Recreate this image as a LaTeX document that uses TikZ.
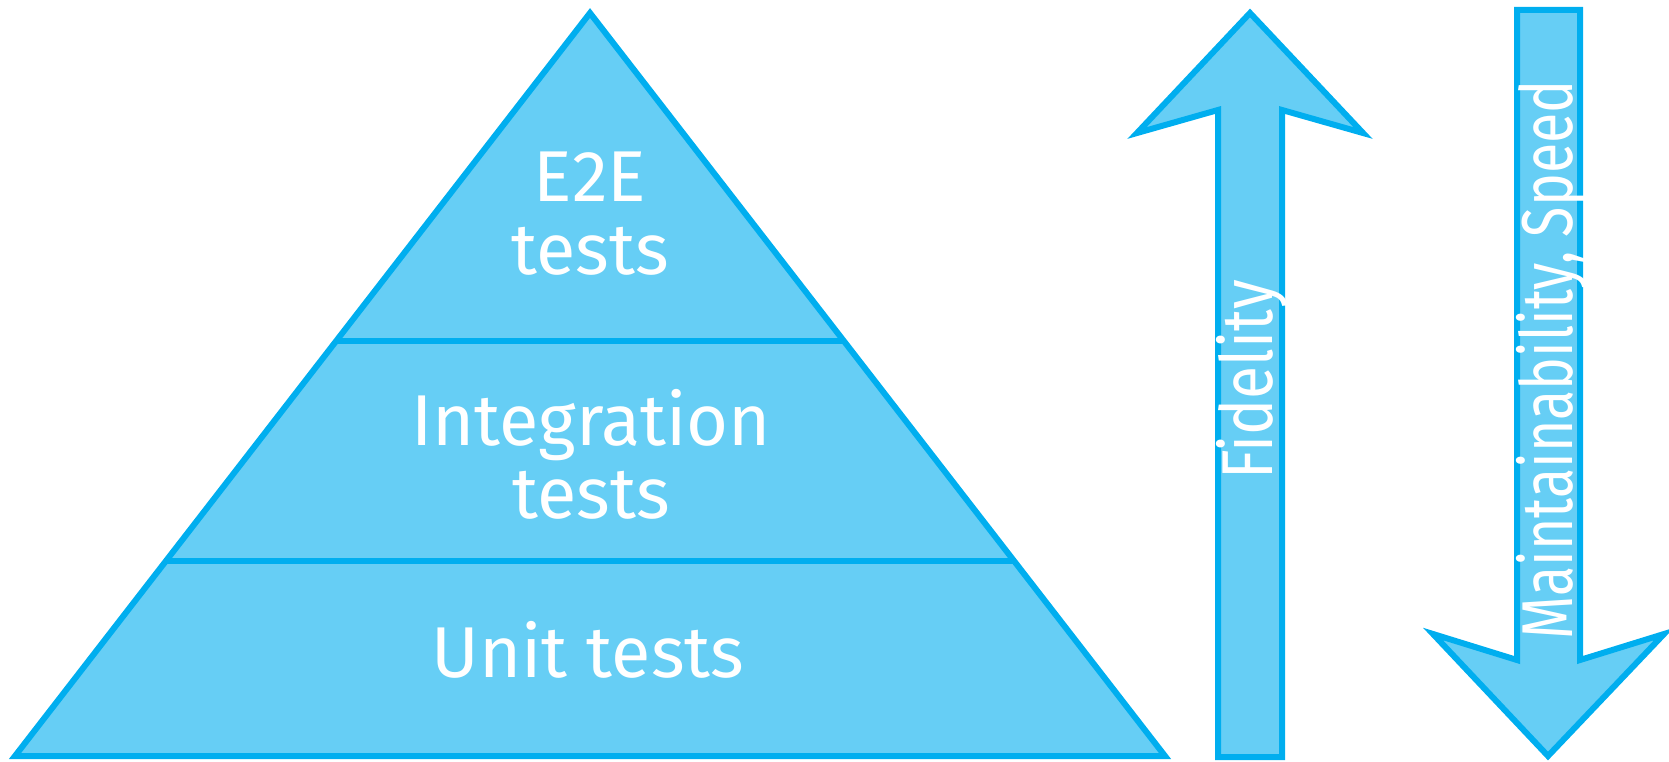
\documentclass[tikz,border=0pt]{standalone}
\usepackage{fontspec}
\setmainfont{Fira Sans}
\definecolor{pfill}{RGB}{102,206,245}
\definecolor{pline}{RGB}{0,174,239}
\begin{document}
\begin{tikzpicture}[x=1pt,y=-1pt,
  shapestyle/.style={fill=pfill,draw=pline,line width=6pt,line join=miter,miter limit=20},
  divline/.style={draw=pline,line width=6.5pt},
  lbl/.style={text=white,font=\fontsize{72}{73}\selectfont,align=center,inner sep=0pt,anchor=base}]
\useasboundingbox (0,0) rectangle (1669,762);
% pyramid
\coordinate (apex) at (590,13);
\coordinate (bl) at (15,756);
\coordinate (br) at (1165,756);
\draw[shapestyle] (apex) -- (br) -- (bl) -- cycle;
\coordinate (l1a) at (335,341);
\coordinate (l1b) at (845,341);
\coordinate (l2a) at (164,561);
\coordinate (l2b) at (1016,561);
\draw[divline] (l1a) -- (l1b);
\draw[divline] (l2a) -- (l2b);
% up arrow
\draw[shapestyle] (1250,13) -- (1363,133) -- (1282,110) -- (1282,757) -- (1218,757) -- (1218,110) -- (1137,133) -- cycle;
% down arrow
\draw[shapestyle] (1517,10) -- (1580,10) -- (1580,660) -- (1664,634) -- (1548,756) -- (1433,634) -- (1517,660) -- cycle;
% labels
\node[lbl] (e2e) at (590,274) {E2E\\tests};
\node[lbl] (integ) at (591,518) {Integration\\tests};
\node[lbl] (unit) at (588,677) {Unit tests};
\node[lbl,rotate=90,xscale=0.84] (fid) at (1272,380) {Fidelity};
\node[lbl,rotate=90,xscale=0.77] (maint) at (1572,360) {Maintainability, Speed};
\end{tikzpicture}
\end{document}
